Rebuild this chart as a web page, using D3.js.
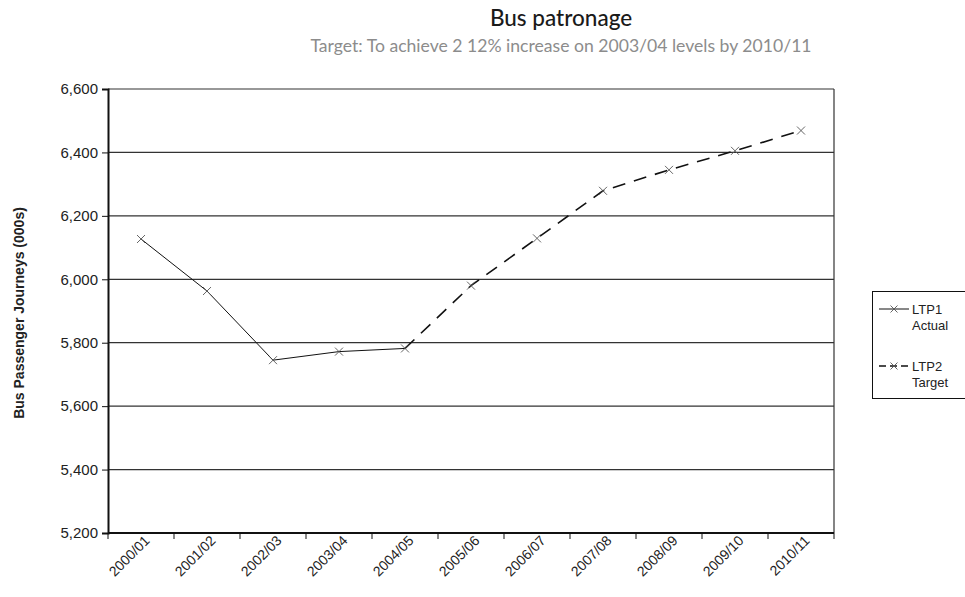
<!DOCTYPE html>
<html>
<head>
<meta charset="utf-8">
<script src="https://cdn.jsdelivr.net/npm/d3@7"></script>
<style>
  html, body { margin: 0; padding: 0; background: #fff; }
  svg { display: block; }
</style>
</head>
<body>
<svg id="chart" width="965" height="597"></svg>
<script>
// Financial years on the category axis
const years = ["2000/01","2001/02","2002/03","2003/04","2004/05","2005/06",
               "2006/07","2007/08","2008/09","2009/10","2010/11"];
// LTP1 actual patronage (000s journeys)
const actualYears = ["2000/01","2001/02","2002/03","2003/04","2004/05"];
const actualValues = [6127, 5963, 5745, 5772, 5782];
// LTP2 target trajectory (000s journeys)
const targetYears = ["2004/05","2005/06","2006/07","2007/08","2008/09","2009/10","2010/11"];
const targetValues = [5782, 5980, 6129, 6279, 6345, 6405, 6469];
// Value axis ticks
const yTicks = [5200, 5400, 5600, 5800, 6000, 6200, 6400, 6600];

const svg = d3.select("#chart");
const plotL = 108, plotR = 834, plotT = 89, plotB = 533;
const sans = "Arial, 'Liberation Sans', sans-serif";

const x = d3.scaleBand().domain(years).range([plotL, plotR]);
const y = d3.scaleLinear().domain([5200, 6600]).range([plotB, plotT]);

// Titles
svg.append("text").attr("x", 561).attr("y", 26).attr("text-anchor", "middle")
  .style("font-family", "Lato, 'Open Sans', sans-serif").style("font-size", "22.5px")
  .style("font-weight", 500)
  .attr("fill", "#1a1a1a").text("Bus patronage");
svg.append("text").attr("x", 561).attr("y", 52).attr("text-anchor", "middle")
  .style("font-family", "Lato, 'Open Sans', sans-serif").style("font-size", "17.6px")
  .attr("fill", "#8c8c8c").text("Target: To achieve 2 12% increase on 2003/04 levels by 2010/11");

// Horizontal gridlines
svg.append("g").selectAll("line").data(yTicks.filter(d => d > 5200))
  .join("line")
  .attr("x1", plotL).attr("x2", plotR)
  .attr("y1", d => y(d)).attr("y2", d => y(d))
  .attr("stroke", "#333").attr("stroke-width", 1.2);

// Right border of plot area
svg.append("line").attr("x1", plotR).attr("x2", plotR).attr("y1", plotT).attr("y2", plotB)
  .attr("stroke", "#333").attr("stroke-width", 1.2);

// Y axis
const yAxis = d3.axisLeft(y).tickValues(yTicks).tickSize(6).tickPadding(4)
  .tickFormat(d3.format(","));
const gy = svg.append("g").attr("transform", `translate(${plotL},0)`).call(yAxis);
gy.select(".domain").attr("stroke", "#111").attr("stroke-width", 2);
gy.selectAll(".tick line").attr("stroke", "#111");
gy.selectAll("text").style("font-family", sans)
  .style("font-size", "15px").attr("fill", "#222");

// X axis: ticks at category boundaries
const gx = svg.append("g").attr("transform", `translate(0,${plotB})`);
gx.append("line").attr("x1", plotL).attr("x2", plotR).attr("y1", 0).attr("y2", 0)
  .attr("stroke", "#111").attr("stroke-width", 2);
const bounds = years.map(d => x(d)).concat([plotR]);
gx.selectAll("line.tk").data(bounds).join("line").attr("class", "tk")
  .attr("x1", d => d).attr("x2", d => d).attr("y1", 0).attr("y2", 6)
  .attr("stroke", "#111");
gx.selectAll("text").data(years).join("text")
  .attr("transform", d => `translate(${x(d) + x.bandwidth() / 2 + 6},${5}) rotate(-45)`)
  .attr("text-anchor", "end").attr("dy", "0.35em")
  .style("font-family", sans).style("font-size", "14px")
  .attr("fill", "#222").text(d => d);

// Y axis title
svg.append("text").attr("transform", `translate(24,${(plotT + plotB) / 2 + 2}) rotate(-90)`)
  .attr("text-anchor", "middle")
  .style("font-family", sans).style("font-size", "14px")
  .style("font-weight", "bold").attr("fill", "#222").text("Bus Passenger Journeys (000s)");

const cx = d => x(d) + x.bandwidth() / 2;
const line = d3.line().x(d => cx(d[0])).y(d => y(d[1]));

const actual = actualYears.map((d, i) => [d, actualValues[i]]);
const target = targetYears.map((d, i) => [d, targetValues[i]]);

svg.append("path").datum(target).attr("d", line).attr("fill", "none")
  .attr("stroke", "#111").attr("stroke-width", 1.6).attr("stroke-dasharray", "13,9");
svg.append("path").datum(actual).attr("d", line).attr("fill", "none")
  .attr("stroke", "#111").attr("stroke-width", 1);

function cross(g, px, py, s) {
  g.append("path").attr("d", `M${px - s},${py - s}L${px + s},${py + s}M${px - s},${py + s}L${px + s},${py - s}`)
    .attr("stroke", "#555").attr("stroke-width", 0.9).attr("fill", "none");
}
const markers = svg.append("g");
actual.concat(target.slice(1)).forEach(d => cross(markers, cx(d[0]), y(d[1]), 4));

// Legend
const lg = svg.append("g");
lg.append("rect").attr("x", 872.5).attr("y", 291.5).attr("width", 100).attr("height", 107)
  .attr("fill", "#fff").attr("stroke", "#111").attr("stroke-width", 1);
const legendItems = [
  { label: ["LTP1", "Actual"], dash: null, y: 309 },
  { label: ["LTP2", "Target"], dash: "7,4", y: 366 }
];
legendItems.forEach(it => {
  lg.append("line").attr("x1", 879).attr("x2", 909).attr("y1", it.y).attr("y2", it.y)
    .attr("stroke", "#111").attr("stroke-width", it.dash ? 1.6 : 1)
    .attr("stroke-dasharray", it.dash);
  cross(lg, 894, it.y, 3.5);
  const t = lg.append("text").attr("x", 912).attr("y", it.y + 5)
    .style("font-family", sans).style("font-size", "13px")
    .attr("fill", "#222");
  t.append("tspan").attr("x", 912).text(it.label[0]);
  t.append("tspan").attr("x", 912).attr("dy", 16).text(it.label[1]);
});
</script>
</body>
</html>
